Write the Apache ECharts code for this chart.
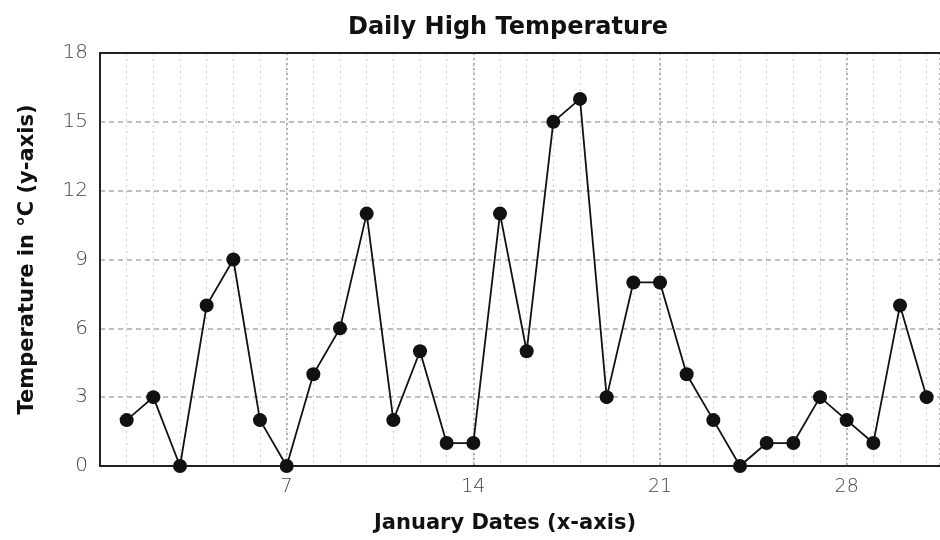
<!DOCTYPE html>
<html>
<head>
<meta charset="utf-8">
<script src="https://cdn.jsdelivr.net/npm/echarts@6/dist/echarts.min.js"></script>
<style>
  html, body { margin: 0; padding: 0; background: #fff; }
  #chart { width: 940px; height: 540px; }
</style>
</head>
<body>
<div id="chart"></div>
<script>
// January days and the high temperature for each
const days = [1, 2, 3, 4, 5, 6, 7, 8, 9, 10, 11, 12, 13, 14, 15, 16,
  17, 18, 19, 20, 21, 22, 23, 24, 25, 26, 27, 28, 29, 30, 31]
const highs = [2, 3, 0, 7, 9, 2, 0, 4, 6, 11, 2, 5, 1, 1, 11, 5,
  15, 16, 3, 8, 8, 4, 2, 0, 1, 1, 3, 2, 1, 7, 3]
const xTickLabels = [7, 14, 21, 28]
const yTickLabels = [0, 3, 6, 9, 12, 15, 18]

const font = '"DejaVu Sans", sans-serif'
const chart = echarts.init(document.getElementById('chart'))

chart.setOption({
  animation: false,
  title: {
    text: 'Daily High Temperature',
    left: 343,
    top: 11,
    textStyle: { fontFamily: font, fontSize: 24, fontWeight: 'bold', color: '#111' }
  },
  grid: { left: 100, top: 53, right: 0, height: 413 },
  xAxis: [
    {
      type: 'value',
      position: 'bottom',
      min: 0,
      max: 31.5,
      interval: 7,
      name: 'January Dates (x-axis)',
      nameLocation: 'middle',
      nameGap: 47,
      nameTextStyle: { fontFamily: font, fontSize: 21, fontWeight: 'bold', color: '#111', padding: [0, 30, 0, 0] },
      axisLine: { lineStyle: { color: '#222', width: 2 } },
      axisTick: { show: false },
      axisLabel: {
        fontFamily: font,
        fontSize: 19,
        fontWeight: 200,
        color: '#444',
        margin: 12,
        showMaxLabel: false,
        formatter: v => (xTickLabels.includes(v) ? String(v) : '')
      },
      splitLine: { show: true, lineStyle: { color: '#999', type: [2, 3], width: 1.5 } }
    },
    {
      type: 'value',
      position: 'top',
      min: 0,
      max: 31.5,
      interval: 1,
      axisLine: { lineStyle: { color: '#222', width: 2 } },
      axisTick: { show: false },
      axisLabel: { show: false },
      splitLine: { show: true, lineStyle: { color: '#ccc', type: [2, 4], width: 1 } }
    }
  ],
  yAxis: {
    type: 'value',
    min: 0,
    max: 18,
    interval: 3,
    name: 'Temperature in °C (y-axis)',
    nameLocation: 'middle',
    nameGap: 62,
    nameTextStyle: { fontFamily: font, fontSize: 21, fontWeight: 'bold', color: '#111' },
    axisLine: { show: true, lineStyle: { color: '#222', width: 2 } },
    axisTick: { show: false },
    axisLabel: {
      fontFamily: font,
      fontSize: 20,
      fontWeight: 200,
      color: '#444',
      margin: 12,
      formatter: v => (yTickLabels.includes(v) ? String(v) : '')
    },
    splitLine: { show: true, lineStyle: { color: '#aaa', type: [5, 4], width: 1.5 } }
  },
  series: [
    {
      type: 'line',
      xAxisIndex: 0,
      data: days.map((d, i) => [d, highs[i]]),
      symbol: 'circle',
      symbolSize: 14,
      lineStyle: { color: '#111', width: 1.8 },
      itemStyle: { color: '#111' },
      clip: false,
      z: 5
    }
  ]
})
</script>
</body>
</html>
